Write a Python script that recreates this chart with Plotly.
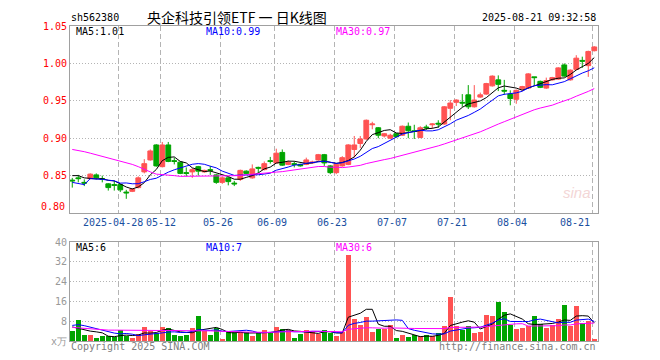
import numpy as np
import plotly.graph_objects as go

# ---------------- data ----------------
trade_dates = (
    ["2025-04-%02d" % d for d in [16, 17, 18, 21, 22, 23, 24, 25, 28, 29, 30]]
    + ["2025-05-%02d" % d for d in [6, 7, 8, 9, 12, 13, 14, 15, 16, 19, 20, 21, 22, 23, 26, 27, 28, 29, 30]]
    + ["2025-06-%02d" % d for d in [3, 4, 5, 6, 9, 10, 11, 12, 13, 16, 17, 18, 19, 20, 23, 24, 25, 26, 27, 30]]
    + ["2025-07-%02d" % d for d in [1, 2, 3, 4, 7, 8, 9, 10, 11, 14, 15, 16, 17, 18, 21, 22, 23, 24, 25, 28, 29, 30, 31]]
    + ["2025-08-%02d" % d for d in [1, 4, 5, 6, 7, 8, 11, 12, 13, 14, 15, 18, 19, 20, 21]]
)

open_ = [0.844, 0.847, 0.841, 0.846, 0.851, 0.846, 0.839, 0.838, 0.838, 0.828,
         0.829, 0.834, 0.855, 0.871, 0.891, 0.862, 0.891, 0.870, 0.868, 0.854,
         0.855, 0.862, 0.855, 0.858, 0.851, 0.841, 0.847, 0.840, 0.845, 0.856,
         0.847, 0.861, 0.858, 0.870, 0.867, 0.881, 0.865, 0.866, 0.865, 0.865,
         0.867, 0.871, 0.878, 0.863, 0.854, 0.863, 0.865, 0.885, 0.893, 0.899,
         0.918, 0.914, 0.903, 0.900, 0.906, 0.904, 0.916, 0.910, 0.901, 0.915,
         0.918, 0.920, 0.919, 0.940, 0.948, 0.948, 0.958, 0.942, 0.955, 0.959,
         0.970, 0.978, 0.964, 0.959, 0.952, 0.966, 0.967, 0.982, 0.976, 0.967,
         0.978, 0.979, 0.998, 0.978, 0.992, 1.004, 0.997, 1.017]
close = [0.843, 0.846, 0.840, 0.852, 0.847, 0.845, 0.834, 0.837, 0.831, 0.827,
         0.832, 0.847, 0.866, 0.883, 0.863, 0.891, 0.869, 0.869, 0.853, 0.853,
         0.858, 0.856, 0.857, 0.857, 0.841, 0.847, 0.842, 0.839, 0.857, 0.853,
         0.859, 0.860, 0.866, 0.869, 0.880, 0.864, 0.868, 0.865, 0.863, 0.871,
         0.868, 0.878, 0.867, 0.854, 0.865, 0.874, 0.891, 0.891, 0.899, 0.924,
         0.919, 0.904, 0.906, 0.904, 0.902, 0.916, 0.910, 0.909, 0.914, 0.914,
         0.919, 0.919, 0.942, 0.947, 0.951, 0.947, 0.942, 0.951, 0.958, 0.973,
         0.983, 0.972, 0.963, 0.953, 0.964, 0.969, 0.986, 0.981, 0.968, 0.977,
         0.981, 0.994, 0.983, 0.991, 1.007, 1.003, 1.016, 1.022]
high = [0.847, 0.851, 0.845, 0.853, 0.853, 0.850, 0.840, 0.843, 0.839, 0.831,
        0.833, 0.849, 0.872, 0.885, 0.892, 0.895, 0.895, 0.874, 0.869, 0.861,
        0.860, 0.863, 0.858, 0.863, 0.852, 0.849, 0.848, 0.843, 0.858, 0.857,
        0.865, 0.862, 0.869, 0.875, 0.886, 0.885, 0.870, 0.869, 0.866, 0.874,
        0.870, 0.879, 0.879, 0.864, 0.867, 0.876, 0.892, 0.903, 0.903, 0.925,
        0.922, 0.915, 0.907, 0.906, 0.907, 0.917, 0.921, 0.918, 0.916, 0.918,
        0.920, 0.924, 0.943, 0.951, 0.952, 0.959, 0.971, 0.971, 0.961, 0.974,
        0.984, 0.984, 0.978, 0.964, 0.965, 0.970, 0.987, 0.982, 0.977, 0.981,
        0.982, 0.995, 1.000, 0.992, 1.011, 1.009, 1.017, 1.023]
low = [0.834, 0.841, 0.836, 0.845, 0.845, 0.841, 0.830, 0.830, 0.828, 0.819,
       0.828, 0.833, 0.853, 0.870, 0.862, 0.861, 0.868, 0.865, 0.852, 0.849,
       0.847, 0.850, 0.854, 0.851, 0.839, 0.839, 0.837, 0.836, 0.843, 0.852,
       0.846, 0.854, 0.857, 0.866, 0.866, 0.863, 0.864, 0.861, 0.862, 0.864,
       0.866, 0.870, 0.863, 0.852, 0.852, 0.862, 0.864, 0.874, 0.887, 0.898,
       0.912, 0.900, 0.901, 0.899, 0.901, 0.903, 0.900, 0.899, 0.900, 0.911,
       0.913, 0.914, 0.918, 0.924, 0.943, 0.942, 0.939, 0.941, 0.954, 0.958,
       0.969, 0.963, 0.958, 0.944, 0.946, 0.963, 0.966, 0.971, 0.967, 0.966,
       0.977, 0.978, 0.982, 0.977, 0.991, 0.994, 0.982, 1.016]
volume = [4.0, 8.6, 2.6, 2.2, 1.1, 2.0, 1.8, 1.6, 4.4, 2.1,
          1.1, 2.9, 5.8, 4.0, 3.3, 5.8, 5.4, 2.2, 1.8, 2.2,
          5.1, 10.2, 4.2, 2.6, 5.4, 0.9, 3.8, 3.8, 3.8, 3.8,
          1.8, 3.2, 4.4, 3.8, 5.8, 5.0, 4.6, 1.1, 3.0, 4.4,
          3.8, 3.0, 4.4, 3.2, 1.8, 3.8, 34.9, 9.0, 6.6, 9.8,
          3.8, 4.8, 4.8, 6.6, 1.1, 2.2, 1.5, 2.2, 1.8, 2.2,
          1.8, 3.4, 6.2, 17.7, 6.2, 4.6, 6.2, 3.4, 3.8, 10.6,
          10.2, 15.7, 11.7, 6.6, 5.0, 5.4, 6.2, 10.2, 7.0, 5.4,
          6.6, 9.0, 14.5, 6.2, 14.1, 7.4, 8.2, 0.7]

# moving-average values at the left edge (their windows start before the visible range)
ma5_head = [0.850, 0.850, 0.847, 0.846]
ma10_head = [0.841, 0.839, 0.838, 0.846, 0.846, 0.845, 0.844, 0.843, 0.840]
ma30_head = [0.885, 0.884, 0.882, 0.880, 0.878, 0.876, 0.874, 0.872, 0.870, 0.868,
             0.865, 0.862, 0.858, 0.855, 0.852, 0.851, 0.850, 0.850, 0.849, 0.849,
             0.849, 0.849, 0.849, 0.849, 0.849, 0.850, 0.850, 0.850, 0.850]
vma5_head = [5.7, 5.1, 4.6, 4.0]
vma10_head = [6.3, 6.6, 6.2, 5.6, 4.9, 4.2, 3.6, 3.2, 2.9]
vma30_head = [5.5, 5.3, 5.0, 4.8, 4.6, 4.5, 4.4, 4.4, 4.4, 4.3,
              4.3, 4.3, 4.3, 4.3, 4.3, 4.3, 4.3, 4.3, 4.3, 4.2,
              4.2, 4.2, 4.1, 4.1, 4.0, 4.0, 3.9, 3.8, 3.7]

price_ticks = [0.85, 0.90, 0.95, 1.00, 1.05]
bottom_price_label = 0.80
vol_ticks = [0, 8, 16, 24, 32, 40]
vol_tick_text = ["x万", "8", "16", "24", "32", "40"]
date_ticks = ["2025-04-28", "2025-05-12", "2025-05-26", "2025-06-09", "2025-06-23",
              "2025-07-07", "2025-07-21", "2025-08-04", "2025-08-21"]
date_tick_text = ["2025-04-28", "05-12", "05-26", "06-09", "06-23", "07-07", "07-21", "08-04", "08-21"]

code = "sh562380"
title = "央企科技引领ETF\u00a0一\u00a0日K线图"
stamp = "2025-08-21 09:32:58"
main_legend = ["MA5:1.01", "MA10:0.99", "MA30:0.97"]
vol_legend = ["MA5:6", "MA10:7", "MA30:6"]

# ---------------- helpers ----------------
def moving(vals, n, head):
    v = np.asarray(vals, dtype=float)
    out = []
    for i in range(len(v)):
        out.append(head[i] if i < n - 1 else v[i - n + 1:i + 1].mean())
    return out

n = len(close)
x = list(range(n))
ma5, ma10, ma30 = moving(close, 5, ma5_head), moving(close, 10, ma10_head), moving(close, 30, ma30_head)
vma5, vma10, vma30 = moving(volume, 5, vma5_head), moving(volume, 10, vma10_head), moving(volume, 30, vma30_head)

RED = "#FF5252"
GREEN = "#00A400"
BLK, BLUE, MAG = "#000000", "#0000FF", "#FF00FF"
MONO = "DejaVu Sans Mono"
bar_colors = [RED if c > o else GREEN for o, c in zip(open_, close)]

# the page body adds an 8px offset; layout below is expressed in window pixels
OFF = 8
W, H = 660 - OFF, 360 - OFF
PW, PH = 528, 320
L, T = 70 - OFF, 21 - OFF
R, B = W - L - PW, H - T - PH
px = lambda v: (v - OFF - L) / PW
py = lambda v: (T + PH - (v - OFF)) / PH

grid_pos = [trade_dates.index(d) - 1 / 3 for d in date_ticks]

fig = go.Figure()
fig.add_trace(go.Candlestick(
    x=x, open=open_, high=high, low=low, close=close,
    increasing=dict(line=dict(color=RED, width=1), fillcolor=RED),
    decreasing=dict(line=dict(color=GREEN, width=1), fillcolor=GREEN),
    whiskerwidth=0, hoverinfo="skip", xaxis="x", yaxis="y"))
for series, col in [(ma5, BLK), (ma10, BLUE), (ma30, MAG)]:
    fig.add_trace(go.Scatter(x=x, y=series, mode="lines", line=dict(color=col, width=1),
                             hoverinfo="skip", xaxis="x", yaxis="y"))
fig.add_trace(go.Bar(x=x, y=volume, width=0.8, marker=dict(color=bar_colors, line=dict(width=0)),
                     hoverinfo="skip", xaxis="x2", yaxis="y2"))
for series, col in [(vma5, BLK), (vma10, BLUE), (vma30, MAG)]:
    fig.add_trace(go.Scatter(x=x, y=series, mode="lines", line=dict(color=col, width=1),
                             hoverinfo="skip", xaxis="x2", yaxis="y2"))

xcommon = dict(range=[-0.38, n - 0.38], tickmode="array", tickvals=grid_pos, showticklabels=False,
               showgrid=True, gridcolor="#b4b4b4", gridwidth=1, griddash="5px,3px",
               showline=True, mirror=True, linecolor="#a0a0a0", linewidth=1, zeroline=False, ticks="")
ycommon = dict(showgrid=True, gridcolor="#b4b4b4", gridwidth=1, griddash="1px,2px",
               showline=True, mirror=True, linecolor="#a0a0a0", linewidth=1, zeroline=False, ticks="")

fig.update_layout(
    width=W, height=H, margin=dict(l=L, r=R, t=T, b=B),
    paper_bgcolor="white", plot_bgcolor="white", showlegend=False,
    boxgap=0.2, boxgroupgap=0, bargap=0,
    xaxis=dict(domain=[0, 1], anchor="y", rangeslider=dict(visible=False), **xcommon),
    xaxis2=dict(domain=[0, 1], anchor="y2", matches="x", **xcommon),
    yaxis=dict(domain=[py(211), 1], range=[0.80, 1.05], tickmode="array",
               tickvals=price_ticks, ticktext=["%.2f" % v for v in price_ticks],
               tickfont=dict(family=MONO, size=10, color="#FF0000"), **ycommon),
    yaxis2=dict(domain=[0, py(240.5)], range=[0, 40], tickmode="array",
                tickvals=vol_ticks, ticktext=vol_tick_text,
                tickfont=dict(family=MONO, size=10, color="#999999"), **ycommon),
)

ann = []
def text(s, xp, yp, anchor="left", color=BLK, size=10, family=MONO):
    ann.append(dict(text=s, x=px(xp), y=py(yp), xref="paper", yref="paper", xanchor=anchor,
                    yanchor="middle", showarrow=False, font=dict(family=family, size=size, color=color)))

text(code, 69, 12)
text(title, 237, 12, "center", size=14, family="Noto Sans CJK SC")
text(stamp, 598, 12, "right")
for s, xp, col in zip(main_legend, [74, 204, 334], [BLK, BLUE, MAG]):
    text(s, xp, 27, color=col)
for s, xp, col in zip(vol_legend, [74, 204, 334], [BLK, BLUE, MAG]):
    text(s, xp, 246, color=col)
text("%.2f" % bottom_price_label, 67, 204, "right", color="#FF0000")
text("Copyright 2025 SINA.COM", 69, 347, color="#808080")
text("http://finance.sina.com.cn", 598, 347, "right", color="#808080")
text("<i>sina</i>", 577, 190, "center", color="#F3D6D6", size=15, family="Liberation Sans")

shifts = [-5, 1, -2, -2, -2, -2, -2, -2, 0]
for i, (gp, lab) in enumerate(zip(grid_pos, date_tick_text)):
    last = i == len(grid_pos) - 1
    ann.append(dict(text=lab, x=gp, y=py(221), xref="x", yref="paper",
                    xanchor="right" if last else "center", yanchor="middle", xshift=shifts[i],
                    showarrow=False, font=dict(family=MONO, size=10, color="#1A4FA0")))

fig.update_layout(annotations=ann)
fig.write_html("out.html")
